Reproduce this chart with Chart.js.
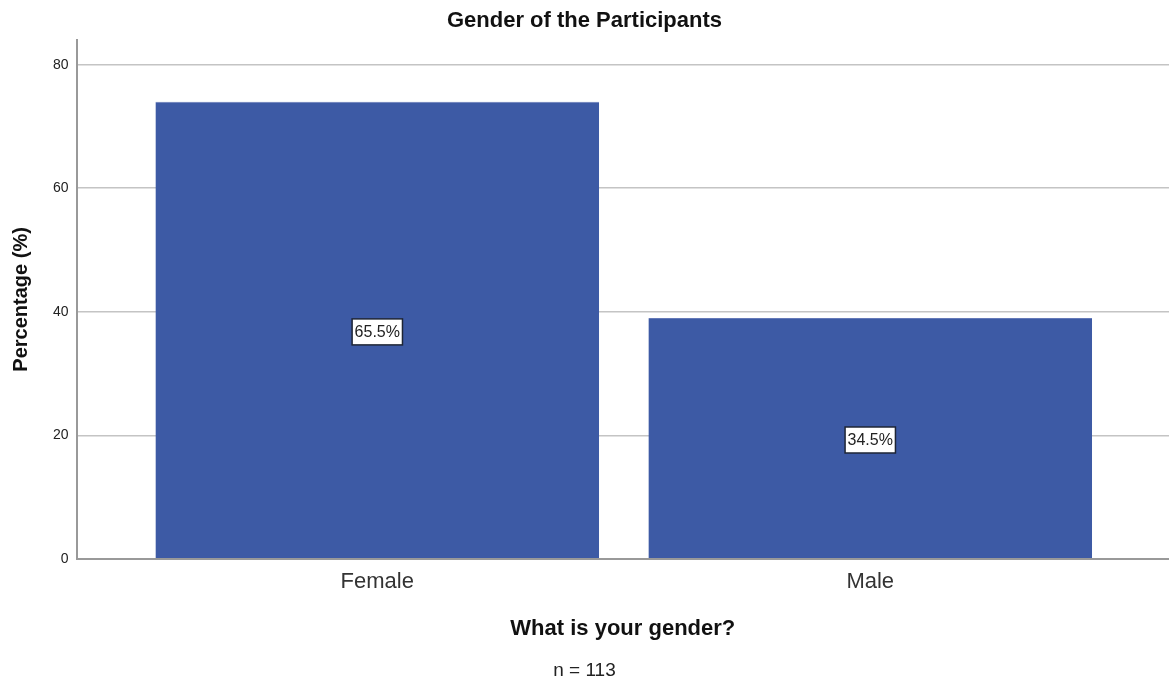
<!DOCTYPE html>
<html>
<head>
<meta charset="utf-8">
<title>Gender of the Participants</title>
<script src="https://cdn.jsdelivr.net/npm/chart.js@4.4.1/dist/chart.umd.min.js"></script>
<style>
    html, body { margin: 0; padding: 0; background: #fff; }
    #wrap { width: 1169px; height: 682px; }
</style>
</head>
<body>
<div id="wrap"><canvas id="genderChart"></canvas></div>
<script>
// survey counts, the labels show them as a share of all answers
const categories = ['Female', 'Male'];
const counts = [74, 39];
const total = 113;
const yTicks = [0, 20, 40, 60, 80];

const percentLabels = counts.map(c => (c / total * 100).toFixed(1) + '%');
const FONT = '"Liberation Sans", Arial, sans-serif';

// white boxed value labels in the middle of each bar
const boxLabels = {
    id: 'boxLabels',
    afterDatasetsDraw(chart) {
        const ctx = chart.ctx;
        const meta = chart.getDatasetMeta(0);
        ctx.save();
        ctx.font = '16px ' + FONT;
        ctx.textAlign = 'center';
        ctx.textBaseline = 'middle';
        meta.data.forEach((bar, i) => {
            const text = percentLabels[i];
            const y = (bar.y + bar.base) / 2 + 2;
            const w = ctx.measureText(text).width + 5;
            const h = 26;
            ctx.fillStyle = '#fff';
            ctx.fillRect(bar.x - w / 2, y - h / 2, w, h);
            ctx.strokeStyle = '#1e2535';
            ctx.lineWidth = 1.5;
            ctx.strokeRect(bar.x - w / 2, y - h / 2, w, h);
            ctx.fillStyle = '#222';
            ctx.fillText(text, bar.x, y + 1);
        });
        ctx.restore();
    }
};

new Chart(document.getElementById('genderChart'), {
    type: 'bar',
    data: {
        datasets: [{
            data: counts.map((c, i) => ({ x: i, y: c })),
            backgroundColor: '#3d5aa5',
            borderColor: '#6479b8',
            borderWidth: { top: 1, left: 0, right: 0, bottom: 0 },
            categoryPercentage: 1,
            barPercentage: 0.9
        }]
    },
    options: {
        responsive: true,
        maintainAspectRatio: false,
        animation: false,
        layout: { padding: { left: 0, right: 0, top: 0, bottom: 0 } },
        scales: {
            x: {
                type: 'linear',
                offset: false,
                min: -0.61,
                max: 1.606,
                afterBuildTicks: axis => { axis.ticks = categories.map((c, i) => ({ value: i })); },
                ticks: {
                    padding: 2.4,
                    color: '#333',
                    font: { family: FONT, size: 22 },
                    callback: v => categories[v]
                },
                grid: { display: false },
                border: { display: true, color: '#999', width: 2 },
                title: {
                    display: true,
                    text: 'What is your gender?',
                    color: '#111',
                    font: { family: FONT, size: 22, weight: 'bold' },
                    padding: { top: 17.8, bottom: 0 }
                }
            },
            y: {
                min: 0,
                max: 84,
                afterBuildTicks: axis => { axis.ticks = yTicks.map(v => ({ value: v })); },
                ticks: {
                    padding: 8,
                    color: '#222',
                    font: { family: FONT, size: 14 }
                },
                grid: { color: '#c4c4c4', lineWidth: 1.5, drawTicks: false },
                border: { display: true, color: '#999', width: 2 },
                title: {
                    display: true,
                    text: 'Percentage (%)',
                    color: '#111',
                    font: { family: FONT, size: 20, weight: 'bold' },
                    padding: { top: 9, bottom: 12 }
                }
            }
        },
        plugins: {
            legend: { display: false },
            tooltip: { enabled: false },
            title: {
                display: true,
                text: 'Gender of the Participants',
                color: '#111',
                font: { family: FONT, size: 22, weight: 'bold' },
                padding: { top: 8, bottom: 5.6 }
            },
            subtitle: {
                display: true,
                position: 'bottom',
                text: 'n = ' + total,
                color: '#222',
                font: { family: FONT, size: 19, weight: 'normal' },
                padding: { top: 17, bottom: 0 }
            }
        }
    },
    plugins: [boxLabels]
});
</script>
</body>
</html>
